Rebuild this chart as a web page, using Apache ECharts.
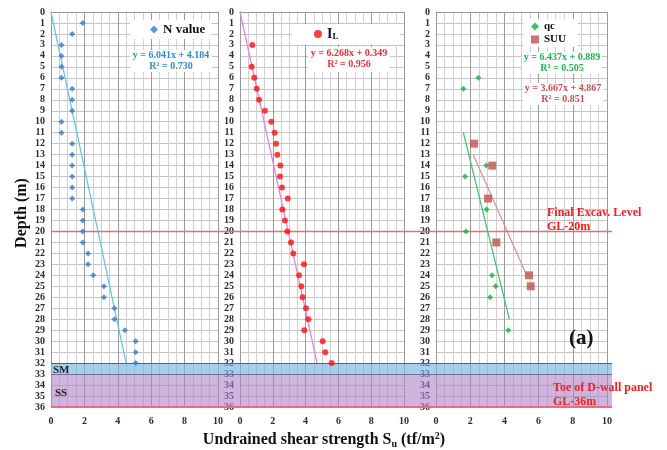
<!DOCTYPE html>
<html><head><meta charset="utf-8">
<script src="https://cdn.jsdelivr.net/npm/echarts@6/dist/echarts.min.js"></script>
<style>html,body{margin:0;padding:0;background:#fff}#c{width:667px;height:450px}</style>
</head><body><div id="c"></div>
<script>
// ---------- data ----------
const xTicks = [0, 2, 4, 6, 8, 10];
const depthRange = [0, 36];
// Panel 1: N value
const nDepth = [1,2,3,4,5,6,7,8,9,10,11,12,13,14,15,16,17,18,19,20,21,22,23,24,25,26,27,28,29,30,31,32];
const nSu    = [1.9,1.27,0.63,0.63,0.63,0.63,1.27,1.27,1.27,0.63,0.63,1.27,1.27,1.27,1.27,1.27,1.27,1.9,1.9,1.9,1.9,2.22,2.22,2.53,3.17,3.17,3.8,3.8,4.43,5.07,5.07,5.07];
const nTrend = [[0,0],[4.5,32]];
// Panel 2: I_L
const ilDepth = [3,5,6,7,8,9,10,11,12,13,14,15,16,17,18,19,20,21,22,23,24,25,26,27,28,29,30,31,32];
const ilSu    = [0.75,0.71,0.87,1.02,1.16,1.52,1.91,2.11,2.2,2.28,2.46,2.44,2.56,2.91,2.58,2.74,2.89,3.11,3.25,3.9,3.6,3.74,3.82,4.02,4.17,3.92,5.04,5.2,5.59];
const ilTrend = [[0,0],[4.7,32]];
// Panel 3: qc and SUU
const qcDepth = [6,7,14,15,18,20,24,25,26,29];
const qcSu    = [2.48,1.6,2.94,1.7,2.96,1.75,3.27,3.49,3.16,4.23];
const qcTrend = [[1.6,11],[4.29,28]];
const suuDepth = [12,14,17,21,24,25];
const suuSu    = [2.22,3.29,3.04,3.53,5.44,5.54];
const suuTrend = [[2.18,13],[5.3,24]];
// Layers / levels
const smLayer = [32, 33];
const ssLayer = [33, 36];
const excavLevel = 20;
const toeLevel = 36;

const pair = (xs, ys) => xs.map((v, i) => [v, ys[i]]);
const SERIF = '"Liberation Serif","Times New Roman",serif';

const grids = [
  {left: 51, top: 12, width: 167, height: 395},
  {left: 240, top: 12, width: 164, height: 395},
  {left: 436, top: 12, width: 171, height: 395},
  {left: 51, top: 12, width: 561, height: 395}
];
function xAx(i){
  return {gridIndex:i, type:'value', min:0, max:10, interval:2,
    axisLine:{show:true,lineStyle:{color:'#999'}}, axisTick:{show:false},
    axisLabel:{fontFamily:SERIF, fontWeight:'bold', fontSize:10, color:'#2a2a3a', margin:9},
    splitLine:{show:true,lineStyle:{color:'#9a9a9a',width:1}},
    minorTick:{show:false, splitNumber:4},
    minorSplitLine:{show:true,lineStyle:{color:'#cfcfcf',width:1}}};
}
function yAx(i){
  return {gridIndex:i, type:'value', inverse:true, min:depthRange[0], max:depthRange[1], interval:1,
    axisLine:{show:true,lineStyle:{color:'#999'}}, axisTick:{show:false},
    axisLabel:{fontFamily:SERIF, fontWeight:'bold', fontSize:10, color:'#2a2a3a', margin:6},
    splitLine:{show:true,lineStyle:{color:'#c4c4c4',width:1}}};
}
const xAxis = [xAx(0), xAx(1), xAx(2), {gridIndex:3, type:'value', min:0, max:1, show:false}];
const yAxis = [yAx(0), yAx(1), yAx(2), {gridIndex:3, type:'value', inverse:true, min:depthRange[0], max:depthRange[1], show:false}];

const series = [
  {name:'layers', type:'line', xAxisIndex:3, yAxisIndex:3, data:[[0,0],[1,0]], symbol:'none', z:3, silent:true,
   lineStyle:{opacity:0},
   markArea:{silent:true, data:[
     [{yAxis:smLayer[0], itemStyle:{color:'rgba(120,180,225,0.65)'}}, {yAxis:smLayer[1]}],
     [{yAxis:ssLayer[0], itemStyle:{color:'rgba(175,130,200,0.6)'}}, {yAxis:ssLayer[1]}]
   ]}},
  {name:'levels', type:'line', xAxisIndex:3, yAxisIndex:3, data:[[0,0],[1,0]], symbol:'none', z:4, silent:true,
   lineStyle:{opacity:0},
   markLine:{silent:true, symbol:['none','none'], label:{show:false}, data:[
     {yAxis:excavLevel, lineStyle:{color:'#f06a7a', width:1.3, type:'solid'}},
     {yAxis:toeLevel, lineStyle:{color:'#f06a7a', width:2, type:'solid'}},
     {yAxis:smLayer[0], lineStyle:{color:'#4a6585', width:1.2, type:'solid'}},
     {yAxis:smLayer[1], lineStyle:{color:'#7a6a9a', width:1, type:'solid'}}
   ]}},
  {name:'N trend', type:'line', xAxisIndex:0, yAxisIndex:0, data:nTrend, symbol:'none', z:4, silent:true,
   lineStyle:{color:'#5cc8e0', width:1.2}},
  {name:'N value', type:'scatter', xAxisIndex:0, yAxisIndex:0, data:pair(nSu, nDepth), symbol:'diamond', symbolSize:6, z:5,
   itemStyle:{color:'#3a78c4'}},
  {name:'IL trend', type:'line', xAxisIndex:1, yAxisIndex:1, data:ilTrend, symbol:'none', z:4, silent:true,
   lineStyle:{color:'#e080e0', width:1.2}},
  {name:'I_L', type:'scatter', xAxisIndex:1, yAxisIndex:1, data:pair(ilSu, ilDepth), symbol:'circle', symbolSize:6, z:5,
   itemStyle:{color:'#ff1010'}},
  {name:'qc trend', type:'line', xAxisIndex:2, yAxisIndex:2, data:qcTrend, symbol:'none', z:4, silent:true,
   lineStyle:{color:'#40c070', width:1.2}},
  {name:'SUU trend', type:'line', xAxisIndex:2, yAxisIndex:2, data:suuTrend, symbol:'none', z:4, silent:true,
   lineStyle:{color:'#d89090', width:1.2}},
  {name:'qc', type:'scatter', xAxisIndex:2, yAxisIndex:2, data:pair(qcSu, qcDepth), symbol:'diamond', symbolSize:6, z:5,
   itemStyle:{color:'#18b040'}},
  {name:'SUU', type:'scatter', xAxisIndex:2, yAxisIndex:2, data:pair(suuSu, suuDepth), symbol:'rect', symbolSize:8, z:6,
   itemStyle:{color:'#c0504d'}}
];

const legTxt = {fontFamily:SERIF, fontWeight:'bold', color:'#111'};
const legend = [
  {data:[{name:'N value', icon:'diamond'}], left:130, top:20, width:82, backgroundColor:'#fff', padding:[3,6,3,20],
   itemWidth:8, itemHeight:8, textStyle:Object.assign({fontSize:13}, legTxt), selectedMode:false},
  {data:[{name:'I_L', icon:'circle'}], left:292, top:24, backgroundColor:'#fff', padding:[3,62,3,22],
   itemWidth:8, itemHeight:8, selectedMode:false,
   formatter:()=>'{a|I}{b|L}',
   textStyle:Object.assign({fontSize:14, rich:{a:Object.assign({fontSize:14},legTxt), b:Object.assign({fontSize:9, padding:[6,0,0,0]},legTxt)}}, legTxt)},
  {data:[{name:'qc', icon:'diamond'}, {name:'SUU', icon:'rect'}], left:523, top:19, orient:'vertical', itemGap:2,
   backgroundColor:'#fff', padding:[2,12,2,8], itemWidth:8, itemHeight:8, selectedMode:false,
   textStyle:Object.assign({fontSize:11}, legTxt)}
];

function eqText(x, y, txt, color){
  return {type:'text', x:x, y:y, z:100,
    style:{text:txt, fill:color, font:'bold 10px '+SERIF, textAlign:'center', textVerticalAlign:'middle', lineHeight:11}};
}
function box(x, y, w, h){
  return {type:'rect', x:x, y:y, z:99, shape:{x:0,y:0,width:w,height:h}, style:{fill:'#fff'}};
}
const graphic = [
  box(130, 50, 82, 22), eqText(171, 61, 'y = 6.041x + 4.184\nR² = 0.730', '#2e8ccc'),
  box(308, 47, 82, 25), eqText(349, 59, 'y = 6.268x + 0.349\nR² = 0.956', '#e83030'),
  box(522, 52, 80, 22), eqText(562, 63, 'y = 6.437x + 0.889\nR² = 0.505', '#22b050'),
  box(523, 83, 80, 22), eqText(563, 94, 'y = 3.667x + 4.867\nR² = 0.851', '#c85050'),
  {type:'text', x:547, y:213, z:100, style:{text:'Final Excav. Level', fill:'#f02020', font:'bold 12px '+SERIF, textVerticalAlign:'middle'}},
  {type:'text', x:547, y:227, z:100, style:{text:'GL-20m', fill:'#f02020', font:'bold 12px '+SERIF, textVerticalAlign:'middle'}},
  {type:'text', x:553, y:388, z:100, style:{text:'Toe of D-wall panel', fill:'#f02020', font:'bold 12px '+SERIF, textVerticalAlign:'middle'}},
  {type:'text', x:553, y:402, z:100, style:{text:'GL-36m', fill:'#f02020', font:'bold 12px '+SERIF, textVerticalAlign:'middle'}},
  {type:'text', x:569, y:339, z:100, style:{text:'(a)', fill:'#111', font:'bold 21px '+SERIF, textVerticalAlign:'middle'}},
  {type:'text', x:53, y:370, z:100, style:{text:'SM', fill:'#222', font:'bold 11px '+SERIF, textVerticalAlign:'middle'}},
  {type:'text', x:55, y:393, z:100, style:{text:'SS', fill:'#222', font:'bold 11px '+SERIF, textVerticalAlign:'middle'}},
  {type:'text', x:22, y:213, rotation:Math.PI/2, z:100,
   style:{text:'Depth (m)', fill:'#111', font:'bold 16px '+SERIF, textAlign:'center', textVerticalAlign:'middle'}},
  {type:'text', x:324, y:440, z:100,
   style:{text:'{t|Undrained shear strength S}{s|u}{t| (tf/m}{p|2}{t|)}', textAlign:'center', textVerticalAlign:'middle',
     rich:{t:{font:'bold 16px '+SERIF, fill:'#111'}, s:{font:'bold 10px '+SERIF, fill:'#111', padding:[8,0,0,0]},
           p:{font:'bold 10px '+SERIF, fill:'#111', padding:[0,0,8,0]}}}}
];

const chart = echarts.init(document.getElementById('c'), null, {renderer:'canvas'});
chart.setOption({animation:false, backgroundColor:'#fff', grid:grids, xAxis:xAxis, yAxis:yAxis,
  series:series, legend:legend, graphic:graphic});
</script></body></html>
